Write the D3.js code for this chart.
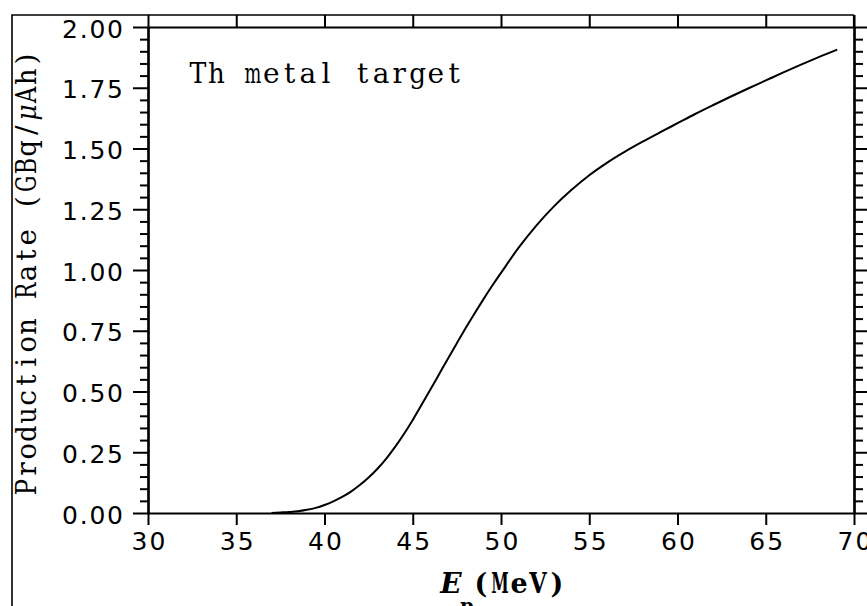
<!DOCTYPE html>
<html>
<head>
<meta charset="utf-8">
<script src="https://cdn.jsdelivr.net/npm/d3@7"></script>
<style>
  html, body { margin: 0; padding: 0; background: #fff; }
  svg { display: block; }
</style>
</head>
<body>
<svg id="chart" width="867" height="606"></svg>
<script>
// Proton energy (MeV) and production rate (GBq/µAh) for a Th metal target
const energy = [37, 37.5, 38, 38.5, 39, 39.5, 40, 40.5, 41, 41.5, 42, 42.5, 43, 43.5,
  44, 44.5, 45, 45.5, 46, 46.5, 47, 47.5, 48, 48.5, 49, 49.5, 50, 51, 52, 53, 54,
  55, 56, 57, 58, 59, 60, 61, 62, 63, 64, 65, 66, 67, 68, 69.05];
const rate = [0.000, 0.002, 0.004, 0.007, 0.013, 0.021, 0.033, 0.048, 0.066, 0.088,
  0.115, 0.146, 0.182, 0.224, 0.272, 0.325, 0.383, 0.445, 0.508, 0.572, 0.636,
  0.699, 0.761, 0.821, 0.879, 0.935, 0.988, 1.092, 1.183, 1.262, 1.330, 1.390,
  1.441, 1.486, 1.527, 1.566, 1.604, 1.642, 1.678, 1.713, 1.747, 1.780, 1.813,
  1.845, 1.876, 1.907];

const xTicks = [30, 35, 40, 45, 50, 55, 60, 65, 70];
const yTicks = [0, 0.25, 0.5, 0.75, 1.0, 1.25, 1.5, 1.75, 2.0];
const yMinorTicks = d3.range(0, 2.0001, 0.05).filter(v => Math.abs(v / 0.25 - Math.round(v / 0.25)) > 1e-6);

const yTitle = "Production Rate (GBq/\u03bcAh)";
const annotation = "Th metal target";
const xUnit = "(MeV)";

const svg = d3.select("#chart");
const x = d3.scaleLinear().domain([30, 70]).range([148, 854]);
const y = d3.scaleLinear().domain([0, 2]).range([513, 27]);

const ink = "#000";
const tickFont = "'DejaVu Sans', sans-serif";
const labelFont = "'DejaVu Serif', serif";

// outer frame lines (top and left)
svg.append("path")
  .attr("d", "M12,606 L12,15 L854,15")
  .attr("fill", "none").attr("stroke", ink).attr("stroke-width", 1.6);

function styleAxis(g) {
  g.select(".domain").attr("stroke", ink).attr("stroke-width", 2.2);
  g.selectAll(".tick line").attr("stroke", ink).attr("stroke-width", 2);
}

// bottom axis with labels
const gb = svg.append("g").attr("transform", `translate(0,${y(0)})`)
  .call(d3.axisBottom(x).tickValues(xTicks).tickSize(12).tickSizeOuter(0).tickPadding(8))
  .call(styleAxis);
gb.selectAll(".tick text")
  .attr("font-family", tickFont).attr("font-size", 25).attr("fill", ink)
  .attr("dy", 0).attr("y", 37)
  .attr("textLength", 34).attr("lengthAdjust", "spacing");

// top axis, major ticks only
svg.append("g").attr("transform", `translate(0,${y(2)})`)
  .call(d3.axisTop(x).tickValues(xTicks).tickSize(12).tickSizeOuter(0).tickFormat(""))
  .call(styleAxis);

// left axis: minor then major ticks with labels
svg.append("g").attr("transform", `translate(${x(30)},0)`)
  .call(d3.axisLeft(y).tickValues(yMinorTicks).tickSize(8).tickSizeOuter(0).tickFormat(""))
  .call(styleAxis);
const gl = svg.append("g").attr("transform", `translate(${x(30)},0)`)
  .call(d3.axisLeft(y).tickValues(yTicks).tickSize(15).tickSizeOuter(0).tickPadding(10).tickFormat(d3.format(".2f")))
  .call(styleAxis);
gl.selectAll(".tick text")
  .attr("font-family", tickFont).attr("font-size", 25).attr("fill", ink)
  .attr("dy", 10)
  .attr("textLength", 61).attr("lengthAdjust", "spacing");

// right axis: minor and major ticks, outward
svg.append("g").attr("transform", `translate(${x(70)},0)`)
  .call(d3.axisRight(y).tickValues(yMinorTicks).tickSize(9).tickSizeOuter(0).tickFormat(""))
  .call(styleAxis);
svg.append("g").attr("transform", `translate(${x(70)},0)`)
  .call(d3.axisRight(y).tickValues(yTicks).tickSize(14).tickSizeOuter(0).tickFormat(""))
  .call(styleAxis);
// right axis runs up to the frame line
svg.append("line")
  .attr("x1", x(70)).attr("x2", x(70)).attr("y1", 15).attr("y2", y(2))
  .attr("stroke", ink).attr("stroke-width", 2.2);

// curve
const line = d3.line()
  .x((d, i) => x(energy[i]))
  .y((d, i) => y(rate[i]))
  .curve(d3.curveMonotoneX);
svg.append("path")
  .datum(energy)
  .attr("d", line)
  .attr("fill", "none").attr("stroke", ink).attr("stroke-width", 2);

// fixed-pitch text: each character centred in its own cell,
// squeezed horizontally when the glyph is wider than the cell
function pitched(parent, str, firstCenter, cell, baseline, opts = {}) {
  const g = parent.append("g");
  const maxW = cell * 0.92;
  Array.from(str).forEach((ch, i) => {
    if (ch === " ") return;
    const cx = firstCenter + i * cell;
    const t = g.append("text")
      .attr("font-family", labelFont)
      .attr("font-size", opts.size || 27)
      .attr("font-weight", opts.weight || "normal")
      .attr("font-style", ch === "\u03bc" ? "italic" : null)
      .attr("text-anchor", "middle")
      .attr("fill", ink)
      .text(ch);
    const w = t.node().getComputedTextLength();
    const s = w > maxW ? maxW / w : 1;
    t.attr("transform", `translate(${cx},${baseline}) scale(${s},1)`);
  });
  return g;
}

// annotation inside the plot
pitched(svg, annotation, 198, 18.3, 83, { size: 28 });

// y-axis title, rotated
const gy = svg.append("g").attr("transform", "translate(36,0) rotate(-90)");
pitched(gy, yTitle, -487, 17.83, 0, { size: 28 });

// x-axis title: E_p (MeV)
svg.append("text")
  .attr("x", 451).attr("y", 593)
  .attr("text-anchor", "middle")
  .attr("font-family", labelFont).attr("font-size", 28)
  .attr("font-style", "italic").attr("font-weight", "bold")
  .attr("fill", ink).text("E");
svg.append("text")
  .attr("x", 467).attr("y", 612)
  .attr("text-anchor", "middle")
  .attr("font-family", labelFont).attr("font-size", 19)
  .attr("font-weight", "bold")
  .attr("fill", ink).text("p");
pitched(svg, xUnit, 481, 19, 593, { size: 27, weight: "bold" });
</script>
</body>
</html>
